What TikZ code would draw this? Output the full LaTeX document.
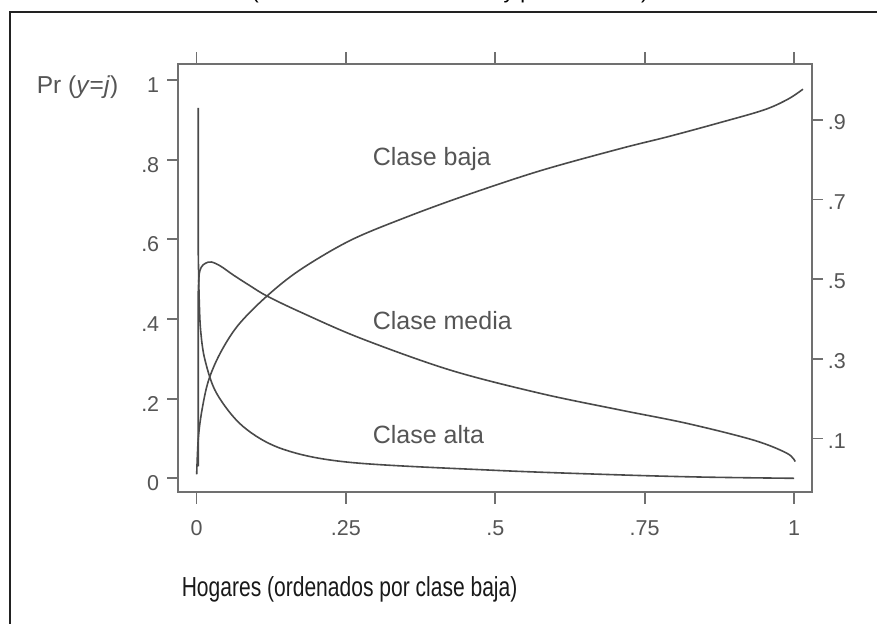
\documentclass[tikz,border=0pt]{standalone}
\usepackage{fontspec}
\setmainfont{Liberation Sans}
\usepackage{tikz}
\usetikzlibrary{positioning}
\definecolor{curvegray}{HTML}{4A4A4A}
\definecolor{axisgray}{HTML}{707070}
\definecolor{labelgray}{HTML}{555555}
\definecolor{framedark}{HTML}{222222}
\tikzset{every picture/.style={line width=1.6pt}}

\begin{document}
\begin{tikzpicture}[x=1pt,y=-1pt,
        ticklabel/.style={text=labelgray, font=\fontsize{21.5}{26}\selectfont, inner sep=0pt},
        curvelabel/.style={text=labelgray, font=\fontsize{25}{30}\selectfont, inner sep=0pt, anchor=base west},
        curve/.style={draw=curvegray, line width=1.6pt, line join=round},
        axisline/.style={draw=axisgray, line width=1.8pt}]
        \useasboundingbox (0,0) rectangle (877,623);
        % frame
        \draw[framedark, line width=2.2pt] (10,640) -- (10,11.7) -- (890,11.7);
        \node[font=\fontsize{21.5}{26}\selectfont, anchor=base, inner sep=0pt] (title) at (450,-1.5) {(Estimaciones del modelo y predicciones)};
        % plot box
        \coordinate (sw) at (178.3,492);
        \coordinate (ne) at (811.7,64);
        \draw[axisline] (sw) rectangle (ne);
        \foreach \xv/\xt [count=\i] in {0/0, .25/.25, .5/.5, .75/.75, 1/1} {
            \coordinate (bt\i) at ({196.5+597.5*\xv},492);
            \coordinate (tt\i) at ({196.5+597.5*\xv},64);
            \draw[axisline] (bt\i) -- ++(0,12);
            \draw[axisline] (tt\i) -- ++(0,-12);
            \node[ticklabel] (xl\i) at ({196.5+597.5*\xv},528) {\xt};
        }
        \foreach \yv/\yt [count=\i] in {0/0, .2/.2, .4/.4, .6/.6, .8/.8, 1/1} {
            \coordinate (lt\i) at (178.3,{478.3-398.3*\yv});
            \draw[axisline] (lt\i) -- ++(-11.6,0);
            \node[ticklabel, anchor=east] (yl\i) at (160,{483.3-398.3*\yv}) {\yt};
        }
        \foreach \yv/\yt [count=\i] in {.1/.1, .3/.3, .5/.5, .7/.7, .9/.9} {
            \coordinate (rt\i) at (811.7,{478.3-398.3*\yv});
            \draw[axisline] (rt\i) -- ++(11.6,0);
            \node[ticklabel, anchor=west] (rl\i) at (827,{480.8-398.3*\yv}) {\yt};
        }
        \node[text=labelgray, font=\fontsize{24.5}{30}\selectfont, inner sep=0pt, anchor=base west] (prob) at (36,93.3) {Pr (\textit{y}=\textit{j})};
        \node[text=black!90, font=\fontsize{27.5}{32}\selectfont, inner sep=0pt, anchor=base west] (hogares) at (181,596.7) {\scalebox{0.765}[1]{Hogares (ordenados por clase baja)}};
        % curve labels
        \node[curvelabel] (baja) at (372,165) {Clase baja};
        \node[curvelabel] (media) at (372,329.3) {Clase media};
        \node[curvelabel] (alta) at (372,443.3) {Clase alta};
        % curves
        \begin{scope}[shift={(196.5pt,-478.3pt)}, x=597.5pt, y=398.3pt]
            \draw[curve] plot[smooth, tension=0.55] coordinates {(0.0003,0.01) (0.003,0.1) (0.009,0.17) (0.02,0.245) (0.04,0.315) (0.07,0.385) (0.1175,0.457) (0.173,0.523) (0.257,0.597) (0.35,0.655) (0.45,0.71) (0.575,0.772) (0.71,0.828) (0.79,0.858) (0.876,0.893) (0.95,0.925) (0.99,0.952) (1.015,0.977)};
            \draw[curve] (0.003,0.03) -- (0.003,0.47) -- plot[smooth, tension=0.55] coordinates {(0.003,0.47) (0.0045,0.512) (0.008,0.53) (0.015,0.54) (0.025,0.543) (0.04,0.533) (0.062,0.51) (0.09,0.483) (0.1175,0.458) (0.173,0.418) (0.274,0.352) (0.424,0.272) (0.575,0.2134) (0.709,0.1715) (0.8205,0.138) (0.932,0.096) (0.988,0.063) (1.002,0.042)};
            \draw[curve] (0.003,0.93) -- (0.003,0.56) -- plot[smooth, tension=0.55] coordinates {(0.003,0.56) (0.0045,0.45) (0.007,0.37) (0.0142,0.297) (0.0338,0.213) (0.078,0.13) (0.145,0.073) (0.257,0.04) (0.5,0.02) (0.71,0.0085) (0.85,0.003) (1.0,0.0)};
        \end{scope}
\end{tikzpicture}
\end{document}
